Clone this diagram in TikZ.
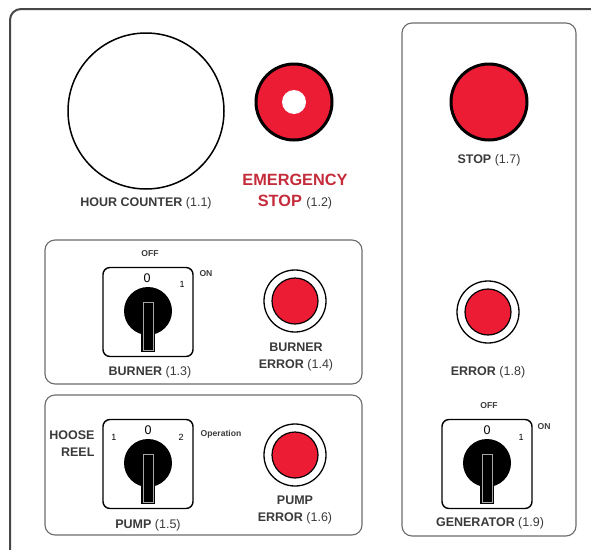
\documentclass[tikz,border=0pt]{standalone}
\usepackage{fontspec}
\setmainfont{Liberation Sans}
\definecolor{btnred}{HTML}{EC1C34}
\definecolor{signred}{HTML}{C42B3B}
\definecolor{txt}{HTML}{3A3A3A}
\definecolor{frameink}{HTML}{474747}
\definecolor{panelink}{HTML}{6B6B6B}
\tikzset{
  lbl/.style={font=\fontsize{12.5}{17}\selectfont\bfseries,text=txt,align=center},
  bigred/.style={font=\fontsize{16.3}{21}\selectfont\bfseries,text=signred,align=center},
  tag/.style={font=\fontsize{8.6}{9}\selectfont\bfseries,text=txt},
  zero/.style={font=\fontsize{12.5}{13}\selectfont,text=black},
  num/.style={font=\fontsize{9}{10}\selectfont,text=black},
  panelbox/.style={draw=panelink,line width=1.1pt,rounded corners=10pt},
  rotswitch/.pic={
    \draw[line width=1.4pt,rounded corners=7pt] (-45,-44.5) rectangle (45,44.5);
    \fill (0,-1) circle(24pt);
    \fill (-7,-12) rectangle (7,40);
    \draw[gray!70,line width=0.6pt] (-4.8,-10) rectangle (4.8,38);
  }
}

\begin{document}
\begin{tikzpicture}[x=1pt,y=-1pt]
\useasboundingbox (0,0) rectangle (591,549);
\clip (0,0) rectangle (591,549);
% outer plate and panels
\draw[frameink,line width=2pt,rounded corners=11pt] (10,9) rectangle (612,570);
\draw[panelbox] (45,240) rectangle (362,384);
\draw[panelbox] (45,395) rectangle (362,535);
\draw[panelbox] (402,23) rectangle (576,536);
% hour counter
\draw[line width=1.5pt] (146,111) circle(78pt);
\node[lbl] (hc) at (146,203) {HOUR COUNTER \textmd{(1.1)}};
% emergency stop
\fill[btnred,draw=black,line width=3pt] (294,102) circle(38pt);
\fill[white] (294,102) circle(12pt);
\node[bigred] (es) at (295,192) {EMERGENCY\\STOP {\color{txt}\fontsize{12.5}{13}\selectfont\mdseries(1.2)}};
% stop
\fill[btnred,draw=black,line width=3pt] (489,102) circle(38pt);
\node[lbl] (st) at (489,160) {STOP \textmd{(1.7)}};
% burner
\pic at (148,312) {rotswitch};
\node[zero] (b0) at (147,278) {0};
\node[num] (b1) at (182,284) {1};
\node[tag] (boff) at (150,254) {OFF};
\node[tag] (bon) at (206,274) {ON};
\node[lbl] (bu) at (150,372) {BURNER \textmd{(1.3)}};
\draw[line width=1.3pt,fill=white] (295,301) circle(31pt);
\fill[btnred,draw=black,line width=1.2pt] (295,301) circle(23pt);
\node[lbl] (be) at (296,357) {BURNER\\ERROR \textmd{(1.4)}};
% pump
\pic at (148,464) {rotswitch};
\node[zero] (p0) at (148,430) {0};
\node[num] (p1) at (114,437) {1};
\node[num] (p2) at (181,437) {2};
\node[lbl,anchor=east,align=right] (hr) at (98,444) {HOOSE\\REEL};
\node[tag] (op) at (221,434) {Operation};
\node[lbl] (pu) at (148,525) {PUMP \textmd{(1.5)}};
\draw[line width=1.3pt,fill=white] (295,455) circle(31pt);
\fill[btnred,draw=black,line width=1.2pt] (295,455) circle(23pt);
\node[lbl] (pe) at (295,510) {PUMP\\ERROR \textmd{(1.6)}};
% error
\draw[line width=1.3pt,fill=white] (488,312) circle(31pt);
\fill[btnred,draw=black,line width=1.2pt] (488,312) circle(23pt);
\node[lbl] (er) at (488,372) {ERROR \textmd{(1.8)}};
% generator
\pic at (487,464) {rotswitch};
\node[zero] (g0) at (487,430) {0};
\node[num] (g1) at (521,437) {1};
\node[tag] (goff) at (489,406) {OFF};
\node[tag] (gon) at (544,427) {ON};
\node[lbl] (ge) at (490,523) {GENERATOR \textmd{(1.9)}};
\end{tikzpicture}
\end{document}
